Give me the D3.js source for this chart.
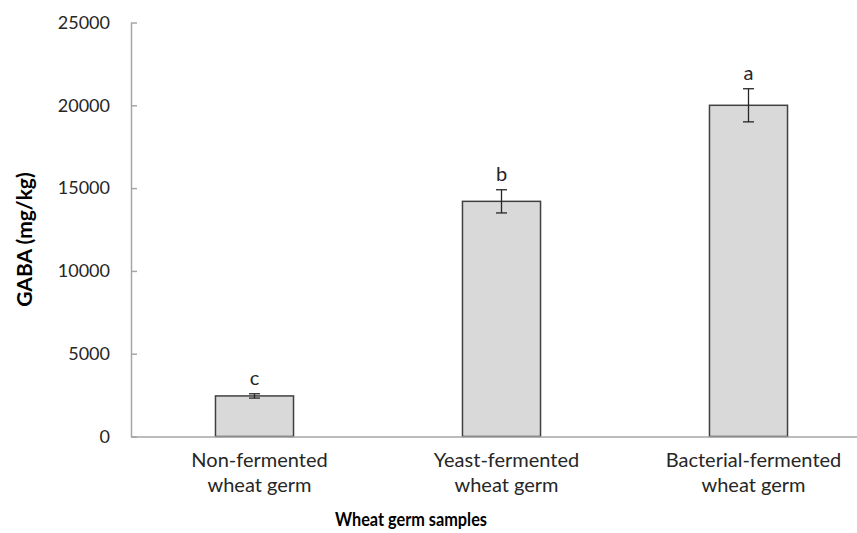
<!DOCTYPE html>
<html>
<head>
<meta charset="utf-8">
<script src="https://cdn.jsdelivr.net/npm/d3@7"></script>
<style>
  html, body { margin: 0; padding: 0; background: #fff; }
  svg { display: block; }
  text { font-family: Lato, "Open Sans", sans-serif; }
</style>
</head>
<body>
<svg id="chart" width="857" height="533"></svg>
<script>
// ---- data ----
const categories = [
  ["Non-fermented", "wheat germ"],
  ["Yeast-fermented", "wheat germ"],
  ["Bacterial-fermented", "wheat germ"]
];
const values = [2450, 14200, 20000];
const errors = [130, 700, 1000];
const letters = ["c", "b", "a"];
const yTicks = [0, 5000, 10000, 15000, 20000, 25000];
const yTitle = "GABA (mg/kg)";
const xTitle = "Wheat germ samples";

// ---- layout ----
const W = 857, H = 533;
const mLeft = 131, mRight = 872, mTop = 22.5, mBottom = 436.5;

const svg = d3.select("#chart");

const x = d3.scaleBand()
  .domain(d3.range(categories.length))
  .range([mLeft, mRight])
  .paddingInner(0.684)
  .paddingOuter(0.342);

const y = d3.scaleLinear().domain([0, 25000]).range([mBottom, mTop]);

// bars
svg.append("g").selectAll("rect")
  .data(values)
  .join("rect")
  .attr("x", (d, i) => x(i))
  .attr("y", d => y(d))
  .attr("width", x.bandwidth())
  .attr("height", d => y(0) - y(d))
  .attr("fill", "#d9d9d9")
  .attr("stroke", "#404040")
  .attr("stroke-width", 1.5);

// error bars
const eg = svg.append("g").attr("stroke", "#262626").attr("stroke-width", 1.3);
values.forEach((v, i) => {
  const cx = x(i) + x.bandwidth() / 2;
  const y1 = y(v + errors[i]), y2 = y(v - errors[i]);
  eg.append("line").attr("x1", cx).attr("x2", cx).attr("y1", y1).attr("y2", y2);
  eg.append("line").attr("x1", cx - 5.5).attr("x2", cx + 5.5).attr("y1", y1).attr("y2", y1);
  eg.append("line").attr("x1", cx - 5.5).attr("x2", cx + 5.5).attr("y1", y2).attr("y2", y2);
});

// significance letters
svg.append("g").selectAll("text")
  .data(letters)
  .join("text")
  .attr("x", (d, i) => x(i) + x.bandwidth() / 2)
  .attr("y", (d, i) => y(values[i] + errors[i]) - 9)
  .attr("text-anchor", "middle")
  .attr("font-size", 20)
  .attr("fill", "#262626")
  .text(d => d);

// y axis
const yAxis = svg.append("g")
  .attr("transform", `translate(${mLeft},0)`)
  .call(d3.axisLeft(y).tickValues(yTicks).tickFormat(d3.format("d"))
    .tickSizeInner(-6).tickSizeOuter(0).tickPadding(21));
yAxis.select(".domain").attr("stroke", "#a6a6a6").attr("stroke-width", 1.5);
yAxis.selectAll(".tick line").attr("stroke", "#a6a6a6").attr("stroke-width", 1.5);
yAxis.selectAll(".tick text")
  .attr("font-family", "Lato, sans-serif")
  .attr("font-size", 18)
  .attr("fill", "#262626");

// x axis
const xAxis = svg.append("g")
  .attr("transform", `translate(0,${mBottom})`)
  .call(d3.axisBottom(x).tickSize(0).tickFormat(""));
xAxis.select(".domain").attr("stroke", "#a6a6a6").attr("stroke-width", 1.5);
xAxis.selectAll(".tick text").remove();
xAxis.selectAll(".tick").each(function(d) {
  const t = d3.select(this).append("text")
    .attr("text-anchor", "middle")
    .attr("font-family", "Lato, sans-serif")
    .attr("font-size", 20)
    .attr("fill", "#262626")
    .attr("x", 5);
  categories[d].forEach((line, k) => {
    t.append("tspan").attr("x", 5).attr("y", 30.5 + k * 25).text(line);
  });
});

// axis titles
svg.append("text")
  .attr("transform", `translate(32,${(mTop + mBottom) / 2 + 10}) rotate(-90)`)
  .attr("text-anchor", "middle")
  .attr("font-size", 21)
  .attr("font-weight", "bold")
  .attr("fill", "#000")
  .text(yTitle);

svg.append("text")
  .attr("x", 411)
  .attr("y", 526)
  .attr("text-anchor", "middle")
  .attr("font-size", 19)
  .attr("font-weight", "bold")
  .attr("fill", "#000")
  .attr("textLength", 152)
  .attr("lengthAdjust", "spacingAndGlyphs")
  .text(xTitle);
</script>
</body>
</html>
